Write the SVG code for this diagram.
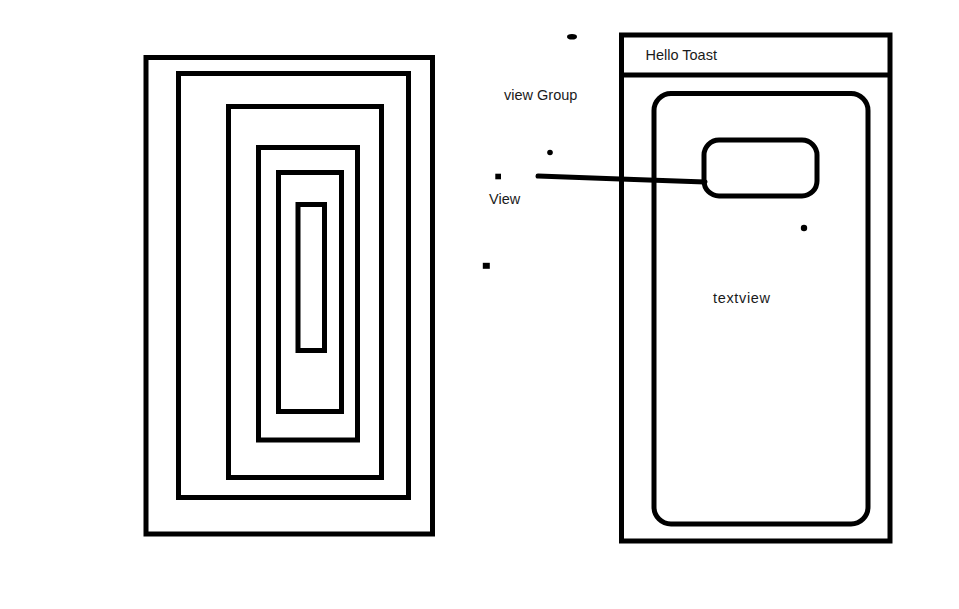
<svg xmlns="http://www.w3.org/2000/svg" width="959" height="609" viewBox="0 0 959 609">
<style>
.box{fill:none;stroke:#000;stroke-width:5}
.lbl{font-family:"Liberation Sans",Arial,sans-serif;font-size:14.5px;fill:#1a1a1a}
.dot{fill:#000}
</style>
<rect x="0" y="0" width="959" height="609" fill="#fff"/>
<g id="nested-views">
<rect class="box" x="146" y="57.5" width="286.5" height="476.5"/>
<rect class="box" x="178.5" y="73.5" width="230" height="424"/>
<rect class="box" x="228.5" y="106.5" width="153" height="371"/>
<rect class="box" x="258.5" y="147.5" width="99" height="292.5"/>
<rect class="box" x="278.5" y="172.5" width="63" height="239"/>
<rect class="box" x="298" y="204.5" width="26.5" height="146"/>
</g>
<g id="phone">
<rect class="box" x="621.5" y="35" width="268.5" height="506"/>
<line class="box" x1="621.5" y1="75" x2="890" y2="75"/>
<text class="lbl" x="645.5" y="59.5">Hello Toast</text>
</g>
<g id="viewgroup-box">
<rect class="box" x="654" y="93.5" width="214" height="430.5" rx="17" ry="17"/>
</g>
<g id="view-box">
<rect class="box" x="704" y="140" width="113" height="56" rx="15" ry="15"/>
</g>
<g id="labels">
<text class="lbl" x="504" y="100">view Group</text>
<text class="lbl" x="489" y="203.5">View</text>
<text class="lbl" x="713" y="302.5" textLength="57">textview</text>
</g>
<g id="connectors">
<polyline points="538,176 620,179 705,182" fill="none" stroke="#000" stroke-width="5" stroke-linecap="round"/>
</g>
<g id="dots">
<ellipse class="dot" cx="572" cy="36.7" rx="5" ry="2.8"/>
<circle class="dot" cx="550" cy="152.5" r="2.8"/>
<rect class="dot" x="495.3" y="173.7" width="5.7" height="5.6"/>
<rect class="dot" x="482.8" y="262.8" width="7" height="6"/>
<circle class="dot" cx="804" cy="228" r="3.2"/>
</g>
</svg>
